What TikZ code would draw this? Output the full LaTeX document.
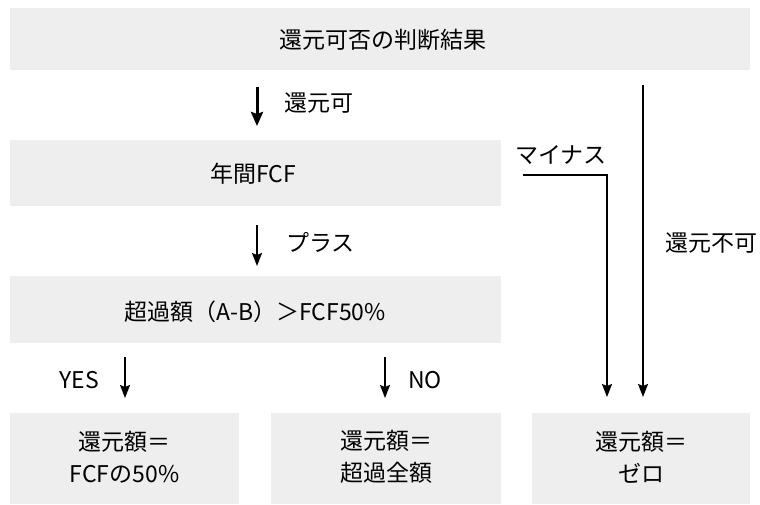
\documentclass[tikz,border=0pt]{standalone}
\usepackage{fontspec}
\setmainfont{Noto Sans CJK JP}
\usetikzlibrary{arrows.meta}
\definecolor{boxgray}{HTML}{EEEEEE}
\tikzset{
  box/.style={fill=boxgray, draw=none},
  lbl/.style={font=\fontsize{23}{32}\selectfont, inner sep=0pt},
  thinarrow/.style={line width=1.6pt, -{Stealth[length=13pt,width=10pt,inset=2pt]}},
  thickarrow/.style={line width=3pt, -{Stealth[length=14pt,width=12pt,inset=2pt]}},
}
\begin{document}
\begin{tikzpicture}[x=1pt,y=-1pt]
\useasboundingbox (0,0) rectangle (760,504);
% boxes
\fill[box] (10,8) rectangle (750,70);
\node[lbl] (top) at (383,40) {還元可否の判断結果};
\fill[box] (10,140) rectangle (501,206);
\node[lbl] (fcf) at (253,174) {年間FCF};
\fill[box] (10,276) rectangle (501,343);
\node[lbl] (cmp) at (255,312) {超過額（A-B）＞FCF50\%};
\fill[box] (10,413) rectangle (239,504);
\node[lbl, align=center] (r1) at (124.5,457) {還元額＝\\FCFの50\%};
\fill[box] (271,413) rectangle (501,504);
\node[lbl, align=center] (r2) at (386,457) {還元額＝\\超過全額};
\fill[box] (532,413) rectangle (750,504);
\node[lbl, align=center] (r3) at (641,457) {還元額＝\\ゼロ};
% labels
\node[lbl, anchor=west] (l1) at (284,103) {還元可};
\node[lbl, anchor=west] (l2) at (286,242) {プラス};
\node[lbl] (lyes) at (79,380) {YES};
\node[lbl, anchor=west] (lno) at (408,380) {NO};
\node[lbl] (lminus) at (561,155) {マイナス};
\node[lbl, anchor=west] (lno2) at (665,243) {還元不可};
% connector coordinates
\coordinate (a1s) at (257,87);  \coordinate (a1e) at (257,126);
\coordinate (a2s) at (257,225); \coordinate (a2e) at (257,266);
\coordinate (a3s) at (125,357); \coordinate (a3e) at (125,398);
\coordinate (a4s) at (385,357); \coordinate (a4e) at (385,398);
\coordinate (m1) at (523,175); \coordinate (m2) at (607,175); \coordinate (m3) at (607,397);
\coordinate (n1) at (643,85); \coordinate (n2) at (643,397);
% connectors
\draw[thickarrow] (a1s) -- (a1e);
\draw[thinarrow] (a2s) -- (a2e);
\draw[thinarrow] (a3s) -- (a3e);
\draw[thinarrow] (a4s) -- (a4e);
\draw[thinarrow] (m1) -- (m2) -- (m3);
\draw[thinarrow] (n1) -- (n2);
\end{tikzpicture}
\end{document}
